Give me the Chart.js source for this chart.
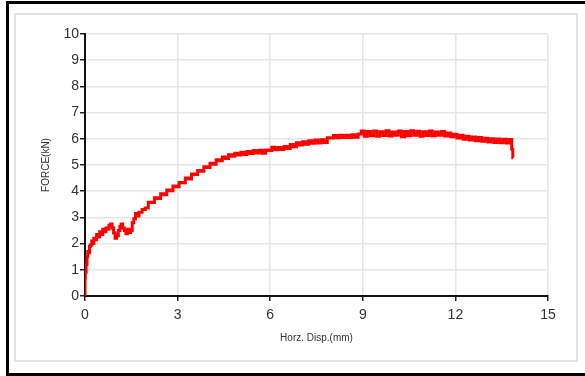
<!DOCTYPE html>
<html>
<head>
<meta charset="utf-8">
<script src="https://cdn.jsdelivr.net/npm/chart.js@4/dist/chart.umd.min.js"></script>
<style>
  html, body { margin: 0; padding: 0; background: #fff; }
  #wrap { position: relative; width: 585px; height: 376px; overflow: hidden; }
  #outer { position: absolute; left: 6px; top: 1px; width: 585px; height: 369px;
           border-left: 3px solid #000; border-top: 3px solid #000; border-bottom: 4px solid #000; }
  #inner { position: absolute; left: 14px; top: 13px; width: 560px; height: 345px;
           border: 2px solid #e2e2e2; }
  canvas { position: absolute; left: 0; top: 0; }
</style>
</head>
<body>
<div id="wrap">
  <div id="outer"></div>
  <div id="inner"></div>
  <canvas id="chart" width="585" height="376"></canvas>
</div>
<script>
// horizontal displacement (mm) and force (kN)
const dispMM = [
  0, 0, 0.02, 0.05, 0.08, 0.1, 0.13, 0.16, 0.2, 0.24, 0.27, 0.3, 0.35, 0.4, 0.45,
  0.5, 0.55, 0.6, 0.65, 0.7, 0.75, 0.8, 0.86, 0.9, 0.95, 1.0, 1.05, 1.11, 1.15, 1.19,
  1.25, 1.3, 1.35, 1.4, 1.46, 1.5, 1.56, 1.6, 1.67, 1.7, 1.8, 1.9,
  2.0, 2.1, 2.2, 2.3, 2.4, 2.5, 2.6, 2.7, 2.8, 2.9,
  3.0, 3.1, 3.2, 3.3, 3.4, 3.5, 3.6, 3.7, 3.8, 3.9,
  4.0, 4.1, 4.2, 4.3, 4.4, 4.5, 4.6, 4.7, 4.8, 4.9,
  5.0, 5.1, 5.2, 5.3, 5.4, 5.5, 5.6, 5.7, 5.8, 5.9,
  6.0, 6.1, 6.2, 6.3, 6.4, 6.5, 6.6, 6.7, 6.8, 6.9,
  7.0, 7.1, 7.2, 7.3, 7.4, 7.5, 7.6, 7.7, 7.8, 7.9,
  8.0, 8.1, 8.2, 8.3, 8.4, 8.5, 8.6, 8.7, 8.8, 8.9,
  9.0, 9.1, 9.2, 9.3, 9.4, 9.5, 9.6, 9.7, 9.8, 9.9,
  10.0, 10.1, 10.2, 10.3, 10.4, 10.5, 10.6, 10.7, 10.8, 10.9,
  11.0, 11.1, 11.2, 11.3, 11.4, 11.5, 11.6, 11.7, 11.8, 11.9,
  12.0, 12.1, 12.2, 12.3, 12.4, 12.5, 12.6, 12.7, 12.8, 12.9,
  13.0, 13.1, 13.2, 13.3, 13.4, 13.5, 13.6, 13.7, 13.8, 13.85, 13.87
];
const forceKN = [
  0, 0.7, 0.9, 1.2, 1.5, 1.7, 1.65, 1.9, 1.95, 2.1, 2.0, 2.2, 2.15, 2.35, 2.25,
  2.45, 2.35, 2.55, 2.45, 2.6, 2.55, 2.7, 2.75, 2.6, 2.4, 2.2, 2.3, 2.5, 2.65, 2.75,
  2.6, 2.5, 2.38, 2.55, 2.42, 2.5, 2.8, 2.95, 3.15, 3.05, 3.2, 3.3,
  3.36, 3.58, 3.57, 3.75, 3.72, 3.9, 3.86, 4.05, 4.02, 4.2,
  4.17, 4.33, 4.32, 4.5, 4.47, 4.66, 4.64, 4.79, 4.76, 4.93,
  4.9, 5.07, 5.03, 5.2, 5.16, 5.31, 5.25, 5.39, 5.33, 5.45,
  5.38, 5.49, 5.4, 5.52, 5.44, 5.55, 5.46, 5.56, 5.45, 5.57,
  5.55, 5.68, 5.58, 5.67, 5.59, 5.71, 5.63, 5.78, 5.7, 5.85,
  5.76, 5.89, 5.79, 5.93, 5.83, 5.95, 5.84, 5.96, 5.86, 6.04,
  6.03, 6.13, 6.04, 6.14, 6.05, 6.14, 6.05, 6.15, 6.06, 6.18,
  6.3, 6.1, 6.28, 6.12, 6.3, 6.1, 6.27, 6.13, 6.31, 6.11,
  6.26, 6.14, 6.3, 6.08, 6.28, 6.12, 6.31, 6.14, 6.29, 6.1,
  6.27, 6.13, 6.3, 6.12, 6.26, 6.14, 6.28, 6.11, 6.22, 6.08,
  6.17, 6.03, 6.14, 5.98, 6.1, 5.95, 6.07, 5.93, 6.05, 5.91,
  6.02, 5.88, 6.0, 5.86, 5.99, 5.85, 5.98, 5.84, 5.97, 5.6, 5.28
];
const xTicks = [0, 3, 6, 9, 12, 15];

const points = dispMM.map((x, i) => ({ x: x, y: forceKN[i] }));

const tickFont = { family: 'Liberation Sans, Arial, sans-serif', size: 14 };
const titleFont = { family: 'Liberation Sans, Arial, sans-serif', size: 10 };

new Chart(document.getElementById('chart'), {
  type: 'line',
  data: {
    datasets: [{
      data: points,
      borderColor: '#ff0000',
      borderWidth: 3,
      pointRadius: 0,
      stepped: 'middle',
      fill: false
    }]
  },
  options: {
    responsive: false,
    animation: false,
    layout: { padding: { left: 40, right: 37, top: 34, bottom: 32 } },
    plugins: { legend: { display: false }, tooltip: { enabled: false } },
    scales: {
      x: {
        type: 'linear',
        min: 0,
        max: 15,
        afterBuildTicks: (s) => { s.ticks = xTicks.map(v => ({ value: v })); },
        afterFit: (s) => { s.height = 48; },
        grid: { color: '#e6e6e6', lineWidth: 1.5, tickColor: '#222', tickLength: 5 },
        border: { color: '#111', width: 2 },
        ticks: { color: '#333', font: tickFont, padding: 6, maxRotation: 0 },
        title: { display: true, text: 'Horz. Disp.(mm)', color: '#333', font: titleFont, padding: 0 }
      },
      y: {
        min: 0,
        max: 10,
        afterFit: (s) => { s.width = 45; },
        grid: { color: '#e6e6e6', lineWidth: 1.5, tickColor: '#222', tickLength: 5 },
        border: { color: '#111', width: 2 },
        ticks: { stepSize: 1, color: '#333', font: tickFont, padding: 1 },
        title: { display: true, text: 'FORCE(kN)', color: '#333', font: titleFont, padding: 0 }
      }
    }
  }
});
</script>
</body>
</html>
